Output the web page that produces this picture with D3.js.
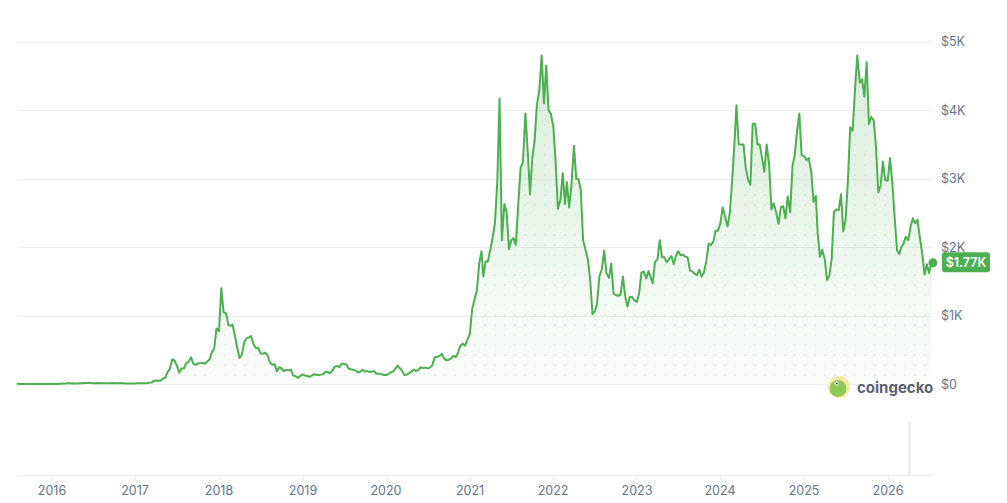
<!DOCTYPE html>
<html lang="en">
<head>
<meta charset="utf-8">
<title>ETH price</title>
<script src="https://d3js.org/d3.v7.min.js"></script>
<style>
  html, body { margin: 0; padding: 0; background: #fff; }
  text { font-family: Inter, "Noto Sans", sans-serif; }
</style>
</head>
<body>
<div id="chart"></div>
<script>
// prices sampled on the 1st, 11th and 21st of each month (USD)
var p2015 = [2.8, 1.2, 1.3, 1.35, 1.2, 0.9, 0.7, 0.6, 0.5, 1.0, 0.95, 0.9, 0.87, 0.9, 0.88]; // from Aug
var p2016 = [0.95, 1.0, 1.5, 2.3, 4.0, 5.5, 8.5, 11, 11.5, 9.0, 8.2, 7.6, 9.5, 11, 13, 14, 17, 14, 12, 11, 13, 11.5, 11, 11, 12, 12.5, 13, 12.5, 12, 11.8, 11, 10, 9, 8.2, 7.8, 8];
var p2017 = [8, 10, 11, 11, 12.5, 13, 17, 21, 43, 50, 48, 52, 82, 90, 170, 230, 360, 340, 270, 165, 225, 230, 305, 320, 390, 295, 280, 300, 305, 310, 295, 330, 360, 465, 515, 810];
var p2018 = [770, 1400, 1050, 1030, 860, 850, 870, 720, 540, 380, 430, 610, 670, 680, 700, 580, 525, 530, 450, 440, 460, 420, 320, 280, 290, 185, 245, 230, 190, 205, 200, 210, 125, 115, 90, 115];
var p2019 = [140, 125, 118, 107, 122, 145, 135, 133, 137, 142, 178, 172, 160, 195, 250, 265, 245, 300, 290, 290, 225, 215, 207, 195, 170, 180, 210, 180, 192, 175, 183, 185, 150, 150, 145, 130];
var p2020 = [130, 145, 168, 185, 225, 270, 230, 195, 130, 135, 158, 185, 210, 188, 205, 245, 232, 240, 228, 240, 275, 390, 395, 410, 440, 370, 345, 355, 370, 410, 395, 460, 560, 590, 560, 640];
var p2021 = [730, 1090, 1230, 1370, 1760, 1940, 1570, 1790, 1790, 1970, 2140, 2360, 2950, 4170, 2100, 2630, 2510, 1970, 2100, 2130, 2030, 2640, 3160, 3240, 3950, 3400, 2770, 3300, 3550, 4080, 4300, 4800, 4100, 4650, 4000, 3950];
var p2022 = [3760, 3240, 2560, 2690, 3080, 2630, 2950, 2580, 2900, 3480, 3000, 2990, 2830, 2100, 1970, 1820, 1520, 1020, 1060, 1170, 1570, 1680, 1950, 1620, 1550, 1760, 1320, 1300, 1290, 1300, 1570, 1280, 1130, 1270, 1270, 1220];
var p2023 = [1200, 1330, 1630, 1640, 1540, 1650, 1570, 1470, 1780, 1820, 2100, 1850, 1850, 1780, 1820, 1870, 1750, 1880, 1940, 1880, 1890, 1860, 1850, 1660, 1640, 1610, 1590, 1670, 1570, 1630, 1810, 2050, 2030, 2080, 2240, 2240];
var p2024 = [2350, 2580, 2450, 2300, 2500, 2960, 3430, 4070, 3500, 3500, 3500, 3150, 2990, 2910, 3800, 3800, 3500, 3500, 3300, 3100, 3500, 3200, 2550, 2640, 2500, 2340, 2580, 2600, 2420, 2740, 2510, 3190, 3350, 3700, 3950, 3340];
var p2025 = [3330, 3270, 3300, 3100, 2660, 2750, 2200, 1860, 1960, 1820, 1520, 1580, 1820, 2510, 2550, 2540, 2770, 2230, 2400, 2960, 3750, 3700, 4300, 4800, 4400, 4450, 4200, 4700, 3800, 3900, 3850, 3450, 2800, 2900, 3250, 2980];
var p2026 = [2970, 3300, 2950, 2400, 1950, 1900, 2000, 2050, 2150, 2100, 2300, 2420, 2350, 2400, 2150, 1900, 1600, 1750, 1620, 1770];

var yTicks = [0, 1000, 2000, 3000, 4000, 5000];
var yTickLabels = ["$0", "$1K", "$2K", "$3K", "$4K", "$5K"];
var lastLabel = "$1.77K";

var volDates = ["2026-04-06"];
var volumes = [53];

var years = [
    {year: 2015, startMonth: 7, values: p2015},
    {year: 2016, startMonth: 0, values: p2016},
    {year: 2017, startMonth: 0, values: p2017},
    {year: 2018, startMonth: 0, values: p2018},
    {year: 2019, startMonth: 0, values: p2019},
    {year: 2020, startMonth: 0, values: p2020},
    {year: 2021, startMonth: 0, values: p2021},
    {year: 2022, startMonth: 0, values: p2022},
    {year: 2023, startMonth: 0, values: p2023},
    {year: 2024, startMonth: 0, values: p2024},
    {year: 2025, startMonth: 0, values: p2025},
    {year: 2026, startMonth: 0, values: p2026}
];
var days = [1, 11, 21];
var data = [];
years.forEach(function(y) {
    y.values.forEach(function(v, i) {
        data.push({date: new Date(Date.UTC(y.year, y.startMonth + Math.floor(i / 3), days[i % 3])), price: v});
    });
});

var width = 1007, height = 503;
var green = "#4caf50";

var svg = d3.select("#chart").append("svg")
    .attr("width", width)
    .attr("height", height);

var x = d3.scaleUtc()
    .domain([new Date(Date.UTC(2016, 0, 1)), new Date(Date.UTC(2026, 0, 1))])
    .range([51.7, 887.7]);
var y = d3.scaleLinear().domain([0, 5000]).range([384, 41.7]);
var yVol = d3.scaleLinear().domain([0, 60]).range([475, 415]);

var left = 18, right = 932;

var defs = svg.append("defs");
var grad = defs.append("linearGradient")
    .attr("id", "fillGrad").attr("x1", 0).attr("x2", 0)
    .attr("gradientUnits", "userSpaceOnUse")
    .attr("y1", y(5000)).attr("y2", y(0));
grad.append("stop").attr("offset", "0%").attr("stop-color", green).attr("stop-opacity", 0.22);
grad.append("stop").attr("offset", "100%").attr("stop-color", green).attr("stop-opacity", 0.02);

var pat = defs.append("pattern")
    .attr("id", "dots").attr("patternUnits", "userSpaceOnUse")
    .attr("width", 10).attr("height", 10);
pat.append("circle").attr("cx", 5).attr("cy", 5).attr("r", 1.1).attr("fill", green).attr("fill-opacity", 0.12);

// grid
svg.append("g").selectAll("line").data(yTicks).enter().append("line")
    .attr("x1", left).attr("x2", right)
    .attr("y1", function(d) { return Math.round(y(d)) + 0.5; })
    .attr("y2", function(d) { return Math.round(y(d)) + 0.5; })
    .attr("stroke", "#eeeeee").attr("stroke-width", 1);

svg.append("g").selectAll("text").data(yTicks).enter().append("text")
    .attr("x", 941)
    .attr("y", function(d) { return y(d) + 4.5; })
    .attr("fill", "#64748b")
    .style("font-size", "12.5px")
    .text(function(d, i) { return yTickLabels[i]; });

// area + line
var area = d3.area()
    .x(function(d) { return x(d.date); })
    .y0(y(0))
    .y1(function(d) { return y(d.price); });
var line = d3.line()
    .x(function(d) { return x(d.date); })
    .y(function(d) { return y(d.price); });

svg.append("path").datum(data).attr("d", area).attr("fill", "url(#fillGrad)");
svg.append("path").datum(data).attr("d", area).attr("fill", "url(#dots)");
svg.append("path").datum(data).attr("d", line)
    .attr("fill", "none").attr("stroke", green).attr("stroke-width", 2)
    .attr("stroke-linejoin", "round");

// last point
var last = data[data.length - 1];
svg.append("circle").attr("cx", x(last.date) + 1.5).attr("cy", y(last.price))
    .attr("r", 4.5).attr("fill", green);
svg.append("rect").attr("x", 942).attr("y", y(last.price) - 10.5)
    .attr("width", 48).attr("height", 20).attr("rx", 3).attr("fill", green);
svg.append("text").attr("x", 966).attr("y", y(last.price) + 4)
    .attr("text-anchor", "middle").attr("fill", "#fff")
    .style("font-size", "12.5px").style("font-weight", 600)
    .text(lastLabel);

// logo
var logo = svg.append("g");
logo.append("circle").attr("cx", 839).attr("cy", 387).attr("r", 11).attr("fill", "#f8eaa6");
logo.append("circle").attr("cx", 838).attr("cy", 388.5).attr("r", 8.5).attr("fill", "#8dc858");
logo.append("circle").attr("cx", 836.5).attr("cy", 383.5).attr("r", 2).attr("fill", "#fff");
logo.append("circle").attr("cx", 836.8).attr("cy", 383.5).attr("r", 1).attr("fill", "#333");
logo.append("text").attr("x", 857).attr("y", 392.5)
    .attr("fill", "#5b6270").style("font-size", "15px").style("font-weight", 700)
    .text("coingecko");

// volume
svg.append("g").selectAll("rect").data(volDates).enter().append("rect")
    .attr("x", function(d) { return x(new Date(d)) - 1; })
    .attr("y", function(d, i) { return yVol(volumes[i]); })
    .attr("width", 2)
    .attr("height", function(d, i) { return yVol(0) - yVol(volumes[i]); })
    .attr("fill", "#e6e8ec");

// x axis
var xTicks = x.ticks(d3.utcYear.every(1)).filter(function(d) { return x(d) > left && x(d) < right; });
svg.append("line").attr("x1", left).attr("x2", right).attr("y1", 475.5).attr("y2", 475.5)
    .attr("stroke", "#eeeeee");
var xt = svg.append("g").selectAll("g").data(xTicks).enter().append("g")
    .attr("transform", function(d) { return "translate(" + Math.round(x(d)) + ",0)"; });
xt.append("line").attr("x1", 0.5).attr("x2", 0.5).attr("y1", 475).attr("y2", 481).attr("stroke", "#eeeeee");
xt.append("text").attr("y", 494.5).attr("text-anchor", "middle")
    .attr("fill", "#64748b").style("font-size", "12.5px")
    .text(function(d) { return d3.utcFormat("%Y")(d); });
</script>
</body>
</html>
